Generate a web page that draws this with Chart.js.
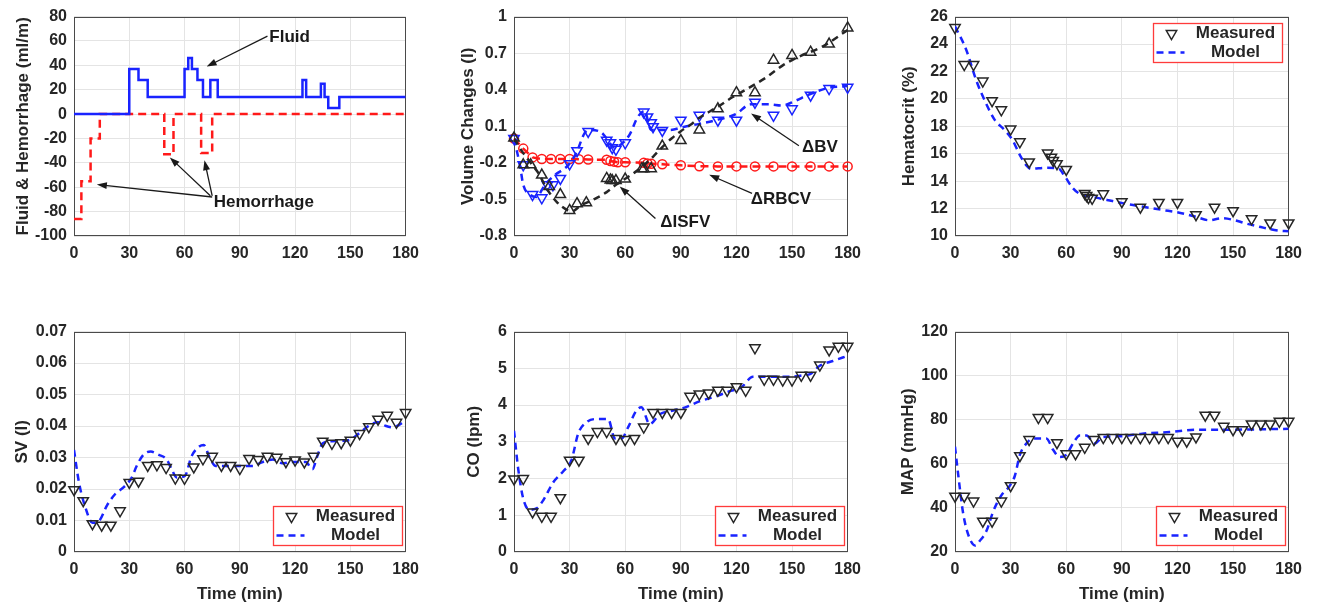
<!DOCTYPE html>
<html>
<head>
<meta charset="utf-8">
<script src="https://cdn.jsdelivr.net/npm/chart.js@4.4.1/dist/chart.umd.min.js"></script>
<style>
  html, body { margin: 0; padding: 0; background: #fff; }
  body { width: 1322px; height: 608px; position: relative; overflow: hidden; }
</style>
</head>
<body>
<script>
// ---- panel 1 : fluid infusion and hemorrhage rates (ml/m), step functions
const fluidT = [0, 30, 35, 40, 60, 62, 64, 67, 70, 74, 78, 124, 126, 134, 136, 138, 144, 180];
const fluidV = [0, 37, 28, 14, 37, 46, 37, 28, 14, 28, 14, 28, 14, 25, 14, 5, 14, 14];
const hemT = [0, 4, 9, 14, 49, 54, 69, 75, 180];
const hemV = [-86, -55, -20, 0, -33, 0, -32, 0, 0];

// ---- panel 2 : volume changes (l)
const isfvT = [0, 5, 9, 15, 19, 25, 30, 34, 39, 50, 52, 53, 55, 60, 69, 70, 74, 80, 90, 100, 110, 120, 130, 140, 150, 160, 170, 180];
const isfvV = [0.004, -0.216, -0.216, -0.30, -0.394, -0.46, -0.59, -0.535, -0.527, -0.328, -0.34, -0.345, -0.345, -0.333, -0.248, -0.248, -0.248, -0.062, -0.017, 0.07, 0.243, 0.376, 0.376, 0.642, 0.681, 0.708, 0.775, 0.907];
const isfvModelT = [0, 5, 10, 13, 18, 23, 29, 31, 36, 43, 50, 55, 60, 65, 70, 75, 80, 85, 90, 95, 100, 110, 118, 125, 136, 145, 155, 166, 180];
const isfvModelV = [0, -0.12, -0.22, -0.28, -0.42, -0.52, -0.59, -0.6, -0.55, -0.5, -0.44, -0.38, -0.33, -0.28, -0.22, -0.15, -0.07, 0, 0.06, 0.11, 0.17, 0.26, 0.34, 0.4, 0.5, 0.6, 0.68, 0.75, 0.89];
const bvT = [0, 5, 10, 15, 18, 21, 25, 30, 34, 40, 50, 52, 53, 55, 60, 70, 72, 74, 75, 80, 90, 100, 110, 120, 130, 140, 150, 160, 170, 180];
const bvV = [0, -0.216, -0.46, -0.487, -0.38, -0.38, -0.328, -0.208, -0.10, 0.058, -0.014, -0.035, -0.075, -0.089, -0.035, 0.217, 0.177, 0.13, 0.097, 0.066, 0.15, 0.19, 0.15, 0.15, 0.297, 0.19, 0.243, 0.355, 0.41, 0.42];
const bvModelT = [0, 3.2, 5, 8.6, 12, 16.7, 22, 29.2, 33.7, 38.1, 40.8, 47.1, 49.8, 54.3, 58.7, 62.3, 66.8, 70.4, 74, 79.4, 84, 92, 100, 109, 119.6, 127.7, 137.5, 144.7, 151.9, 159, 169.8, 180];
const bvModelV = [0, -0.22, -0.38, -0.46, -0.48, -0.38, -0.3, -0.22, -0.115, 0.044, 0.07, 0.05, 0.004, -0.075, -0.035, 0.03, 0.177, 0.225, 0.07, 0.07, 0.07, 0.097, 0.12, 0.15, 0.2, 0.28, 0.28, 0.27, 0.31, 0.36, 0.416, 0.43];
const rbcvT = [0, 5, 10, 15, 20, 25, 30, 35, 40, 50, 52, 54, 56, 60, 70, 72, 74, 80, 90, 100, 110, 120, 130, 140, 150, 160, 170, 180];
const rbcvV = [0, -0.083, -0.155, -0.168, -0.168, -0.168, -0.168, -0.17, -0.172, -0.175, -0.185, -0.19, -0.195, -0.195, -0.2, -0.205, -0.207, -0.212, -0.22, -0.228, -0.229, -0.229, -0.229, -0.229, -0.229, -0.229, -0.229, -0.229];

// ---- panel 3 : hematocrit (%)
const hctT = [0, 5, 10, 15, 20, 25, 30, 35, 40, 50, 52, 53, 55, 60, 70, 71, 72, 74, 80, 90, 100, 110, 120, 130, 140, 150, 160, 170, 180];
const hctV = [25.2, 22.5, 22.5, 21.3, 19.87, 19.2, 17.8, 16.87, 15.4, 16.05, 15.75, 15.5, 15.27, 14.85, 13.1, 12.95, 12.8, 12.75, 13.08, 12.5, 12.1, 12.45, 12.45, 11.55, 12.1, 11.85, 11.25, 10.95, 10.95];
const hctModelT = [0, 6, 11.6, 17, 21.5, 27, 31, 35, 38.5, 41, 49, 56, 59, 63.5, 67, 76, 85, 94, 103, 112, 121, 130, 137, 144, 151, 156, 165, 174, 180];
const hctModelV = [25.3, 23.6, 21.3, 19.6, 18.45, 17.7, 17, 15.9, 15.15, 14.9, 14.97, 14.9, 14.4, 13.5, 13.1, 12.8, 12.55, 12.3, 12.1, 11.9, 11.7, 11.4, 11.15, 11.3, 11.15, 10.95, 10.65, 10.4, 10.35];

// ---- bottom row : measured every 5 min
const sampleT = [0, 5, 10, 15, 20, 25, 30, 35, 40, 45, 50, 55, 60, 65, 70, 75, 80, 85, 90, 95, 100, 105, 110, 115, 120, 125, 130, 135, 140, 145, 150, 155, 160, 165, 170, 175, 180];
const svV = [0.0198, 0.0163, 0.0090, 0.0085, 0.0085, 0.0131, 0.0221, 0.0225, 0.0275, 0.0277, 0.0268, 0.0235, 0.0234, 0.0270, 0.0296, 0.0304, 0.0275, 0.0275, 0.0265, 0.0297, 0.0294, 0.0304, 0.0301, 0.0287, 0.0292, 0.0286, 0.0304, 0.0352, 0.0345, 0.0347, 0.0355, 0.0376, 0.0398, 0.0422, 0.0434, 0.0412, 0.0443];
const svModelT = [0, 2.7, 6.3, 10, 13.5, 18, 22.5, 27, 31.4, 34, 37.7, 41.7, 45.8, 50.3, 53, 55.7, 60.2, 63.8, 68, 70.4, 73.7, 77, 82.6, 90, 97, 102, 108, 113, 118.6, 125.8, 129.4, 132, 135, 140, 149, 154.5, 160, 165, 169, 173, 180];
const svModelV = [0.0324, 0.0221, 0.0139, 0.0093, 0.0098, 0.0149, 0.0185, 0.0206, 0.0237, 0.0273, 0.0309, 0.0319, 0.0309, 0.0294, 0.0263, 0.0237, 0.0242, 0.0304, 0.0335, 0.034, 0.0299, 0.0273, 0.0273, 0.0273, 0.0273, 0.0285, 0.0294, 0.0282, 0.0286, 0.0286, 0.0263, 0.0304, 0.0345, 0.0352, 0.0355, 0.0376, 0.0401, 0.0412, 0.0401, 0.0396, 0.0417];
const coV = [1.99, 2.0, 1.09, 0.97, 0.97, 1.48, 2.5, 2.5, 3.09, 3.28, 3.28, 3.09, 3.06, 3.09, 3.4, 3.8, 3.8, 3.8, 3.8, 4.24, 4.3, 4.33, 4.4, 4.4, 4.5, 4.4, 5.56, 4.7, 4.7, 4.68, 4.68, 4.81, 4.81, 5.09, 5.5, 5.6, 5.6];
const coModelT = [0, 2.3, 5, 8.3, 12.2, 15.8, 21.2, 26.6, 31, 34.6, 39, 44.5, 50.8, 54.4, 58, 61.6, 66, 68.7, 73.2, 78.6, 85.8, 92, 100, 109, 116, 122.6, 128.9, 135, 148.6, 155.7, 160, 165, 172, 180];
const coModelV = [3.3, 2.25, 1.45, 1.15, 1.19, 1.41, 1.9, 2.2, 2.5, 3.22, 3.53, 3.62, 3.62, 3.09, 3.09, 3.4, 3.85, 3.94, 3.48, 3.75, 3.85, 3.93, 4.1, 4.24, 4.37, 4.48, 4.77, 4.77, 4.77, 4.81, 4.85, 5.07, 5.2, 5.34];
const mapV = [45.3, 45.3, 43.1, 34, 34, 43.1, 50.1, 63.7, 71, 81, 81, 69.6, 64.6, 64.6, 67.5, 71, 71.9, 71.9, 71.9, 71.9, 71.9, 71.9, 71.9, 71.9, 70.3, 70.3, 72.2, 82.1, 82.1, 77, 75.5, 75.5, 78.1, 78.1, 78.1, 79.3, 79.3];
const mapModelT = [0, 1.8, 4.5, 7.7, 10.8, 13.5, 17, 20.6, 25, 29.6, 32.3, 35, 38.6, 42, 49.3, 52.9, 56.5, 60, 63.7, 67.3, 70.9, 75.4, 79.9, 88.8, 101, 115.8, 130, 148, 180];
const mapModelV = [67.8, 54.6, 37, 26.6, 23, 25.2, 29.6, 38.4, 45.7, 50.1, 54.6, 64.1, 69.3, 71.5, 71.5, 66.4, 63.1, 64.1, 69.3, 72.9, 72.9, 69.3, 72.2, 72.5, 73.7, 74.4, 75.5, 75.5, 75.9];

// ---- tick labels
const timeTicks = [0, 30, 60, 90, 120, 150, 180];
const flowTicks = [-100, -80, -60, -40, -20, 0, 20, 40, 60, 80];
const volTicks = [-0.8, -0.5, -0.2, 0.1, 0.4, 0.7, 1];
const hctTicks = [10, 12, 14, 16, 18, 20, 22, 24, 26];
const svTicks = [0, 0.01, 0.02, 0.03, 0.04, 0.05, 0.06, 0.07];
const coTicks = [0, 1, 2, 3, 4, 5, 6];
const mapTicks = [20, 40, 60, 80, 100, 120];

const FONT = "'Liberation Sans', Arial, sans-serif";
const INK = '#262626';
const BLUE = 'rgb(25,35,255)';
const RED = 'rgb(255,25,25)';

Chart.defaults.font.family = FONT;
Chart.defaults.font.size = 16;
Chart.defaults.font.weight = 'bold';
Chart.defaults.color = INK;

const xy = (t, v) => t.map((x, i) => ({ x, y: v[i] }));

// box around the axes, like matlab
const framePlugin = {
  id: 'frame',
  beforeDatasetsDraw(chart) {
    const { ctx, chartArea: a } = chart;
    ctx.save();
    ctx.strokeStyle = '#4a4a4a';
    ctx.lineWidth = 1;
    ctx.strokeRect(Math.round(a.left) + 0.5, Math.round(a.top) + 0.5, Math.round(a.width) - 1, Math.round(a.height) - 1);
    ctx.restore();
  }
};

function arrow(ctx, x1, y1, x2, y2) {
  const ang = Math.atan2(y2 - y1, x2 - x1);
  const L = 10, W = 3.5;
  ctx.beginPath();
  ctx.moveTo(x1, y1);
  ctx.lineTo(x2 - Math.cos(ang) * L * 0.8, y2 - Math.sin(ang) * L * 0.8);
  ctx.stroke();
  ctx.beginPath();
  ctx.moveTo(x2, y2);
  ctx.lineTo(x2 - Math.cos(ang) * L - Math.sin(ang) * W, y2 - Math.sin(ang) * L + Math.cos(ang) * W);
  ctx.lineTo(x2 - Math.cos(ang) * L + Math.sin(ang) * W, y2 - Math.sin(ang) * L - Math.cos(ang) * W);
  ctx.closePath();
  ctx.fill();
}

// text labels and arrows placed in data coordinates
const notesPlugin = {
  id: 'notes',
  afterDatasetsDraw(chart, args, opts) {
    if (!opts.items || !opts.items.length) return;
    const { ctx, scales: { x, y } } = chart;
    ctx.save();
    ctx.strokeStyle = '#1a1a1a';
    ctx.fillStyle = '#1a1a1a';
    ctx.lineWidth = 1.3;
    opts.items.forEach(n => {
      if (n.text) {
        ctx.font = 'bold 17px ' + FONT;
        ctx.textAlign = 'center';
        ctx.textBaseline = 'middle';
        ctx.fillText(n.text, x.getPixelForValue(n.x), y.getPixelForValue(n.y));
      }
      (n.arrows || []).forEach(a => {
        arrow(ctx, x.getPixelForValue(a[0]), y.getPixelForValue(a[1]), x.getPixelForValue(a[2]), y.getPixelForValue(a[3]));
      });
    });
    ctx.restore();
  }
};

function downTriangle(ctx, cx, cy, r) {
  ctx.beginPath();
  for (let k = 0; k < 3; k++) {
    const a = Math.PI + k * 2 * Math.PI / 3;
    const px = cx + Math.sin(a) * r, py = cy - Math.cos(a) * r;
    if (k === 0) ctx.moveTo(px, py); else ctx.lineTo(px, py);
  }
  ctx.closePath();
  ctx.stroke();
}

// red boxed legend (Measured / Model)
const boxLegendPlugin = {
  id: 'boxLegend',
  afterDatasetsDraw(chart, args, opts) {
    if (!opts.corner) return;
    const { ctx, chartArea: a } = chart;
    const w = 129, h = 39;
    const left = Math.round(a.right - w - (opts.corner === 'tr' ? 7 : 4)) + 0.5;
    const top = Math.round(opts.corner === 'tr' ? a.top + 6 : a.bottom - h - 7) + 0.5;
    const meas = chart.data.datasets[0], model = chart.data.datasets[1];
    ctx.save();
    ctx.fillStyle = '#fff';
    ctx.fillRect(left, top, w, h);
    ctx.strokeStyle = '#ff3b3b';
    ctx.lineWidth = 1.3;
    ctx.strokeRect(left, top, w, h);
    ctx.strokeStyle = meas.pointBorderColor;
    ctx.lineWidth = meas.pointBorderWidth;
    downTriangle(ctx, left + 18, top + 10, 6);
    ctx.strokeStyle = model.borderColor;
    ctx.lineWidth = model.borderWidth;
    ctx.setLineDash(model.borderDash);
    ctx.beginPath();
    ctx.moveTo(left + 3, top + 29);
    ctx.lineTo(left + 31, top + 29);
    ctx.stroke();
    ctx.setLineDash([]);
    ctx.fillStyle = INK;
    ctx.font = 'bold 17px ' + FONT;
    ctx.textAlign = 'center';
    ctx.textBaseline = 'middle';
    ctx.fillText(meas.label, left + 82, top + 10);
    ctx.fillText(model.label, left + 82, top + 29);
    ctx.restore();
  }
};

function measured(label, t, v, color, up) {
  return {
    label, data: xy(t, v), showLine: false,
    pointStyle: 'triangle', pointRotation: up ? 0 : 180, pointRadius: 6,
    pointBorderColor: color, pointBorderWidth: 1.5, pointBackgroundColor: 'rgba(0,0,0,0)',
    clip: false
  };
}

function model(label, t, v, color) {
  return {
    label, data: xy(t, v), showLine: true, pointRadius: 0,
    borderColor: color, borderWidth: 2.5, borderDash: [7, 5],
    cubicInterpolationMode: 'monotone'
  };
}

// geometry: plot area left/right in page px, y-axis box width, row
function panel(box, yAxis, datasets, extra) {
  const plotW = box.right - box.left;
  const w = box.yw + plotW + 20;
  const h = box.row === 0 ? 264 : 293;
  const div = document.createElement('div');
  div.style.cssText = `position:absolute;left:${box.left - box.yw}px;top:${box.row === 0 ? 0 : 315}px;width:${w}px;height:${h}px`;
  const canvas = document.createElement('canvas');
  canvas.width = w;
  canvas.height = h;
  div.appendChild(canvas);
  document.body.appendChild(div);

  const grid = { color: '#e4e4e4', lineWidth: 1, drawTicks: false };
  return new Chart(canvas, {
    type: 'scatter',
    data: { datasets },
    options: {
      responsive: false,
      animation: false,
      devicePixelRatio: 1,
      layout: { padding: { top: 10, right: 20, left: 0, bottom: 0 } },
      plugins: {
        legend: { display: false },
        tooltip: { enabled: false },
        notes: { items: extra.notes || [] },
        boxLegend: { corner: extra.corner || null }
      },
      scales: {
        x: {
          type: 'linear', min: 0, max: 180,
          afterBuildTicks: s => { s.ticks = timeTicks.map(v => ({ value: v })); },
          afterFit: s => { s.height = box.row === 0 ? 28 : 56; },
          grid, border: { display: false },
          ticks: { padding: 8, maxRotation: 0 },
          title: box.row === 1
            ? { display: true, text: 'Time (min)', font: { size: 17 }, padding: { top: 0, bottom: 3 } }
            : { display: false }
        },
        y: {
          type: 'linear', min: yAxis.min, max: yAxis.max,
          afterBuildTicks: s => { s.ticks = yAxis.ticks.map(v => ({ value: v })); },
          afterFit: s => { s.width = box.yw; },
          grid, border: { display: false },
          ticks: { padding: 7, callback: v => String(+v.toFixed(3)) },
          title: { display: true, text: yAxis.title, font: { size: 17 }, padding: { top: 4, bottom: 0 } }
        }
      }
    },
    plugins: [framePlugin, notesPlugin, boxLegendPlugin]
  });
}

// ---- panel 1
panel({ left: 74, right: 407, yw: 65, row: 0 },
  { min: -100, max: 80, ticks: flowTicks, title: 'Fluid & Hemorrhage (ml/m)' },
  [
    { label: 'Fluid', data: xy(fluidT, fluidV), showLine: true, stepped: 'before', pointRadius: 0, borderColor: BLUE, borderWidth: 2.5 },
    { label: 'Hemorrhage', data: xy(hemT, hemV), showLine: true, stepped: 'before', pointRadius: 0, borderColor: RED, borderWidth: 2.5, borderDash: [8, 5] }
  ],
  {
    notes: [
      { text: 'Fluid', x: 117, y: 63, arrows: [[105, 64, 72, 39]] },
      { text: 'Hemorrhage', x: 103, y: -72, arrows: [[75, -68, 12.4, -57.8], [74, -67, 52, -35.5], [75, -67, 70.8, -37.9]] }
    ]
  });

// ---- panel 2
panel({ left: 514, right: 849, yw: 60, row: 0 },
  { min: -0.8, max: 1, ticks: volTicks, title: 'Volume Changes (l)' },
  [
    measured('ISFV', isfvT, isfvV, INK, true),
    model('ISFV model', isfvModelT, isfvModelV, INK),
    measured('BV', bvT, bvV, BLUE, false),
    model('BV model', bvModelT, bvModelV, BLUE),
    {
      label: 'RBCV', data: xy(rbcvT, rbcvV), showLine: true,
      borderColor: RED, borderWidth: 2.5, borderDash: [8, 5],
      pointStyle: 'circle', pointRadius: 4.5, pointBorderColor: RED, pointBorderWidth: 1.5,
      pointBackgroundColor: 'rgba(255,255,255,0)', clip: false
    }
  ],
  {
    notes: [
      { text: '\u0394BV', x: 165, y: -0.075, arrows: [[153.7, -0.059, 127.9, 0.204]] },
      { text: '\u0394RBCV', x: 144, y: -0.497, arrows: [[128.4, -0.45, 105.3, -0.298]] },
      { text: '\u0394ISFV', x: 92.4, y: -0.689, arrows: [[76.3, -0.657, 57, -0.394]] }
    ]
  });

// ---- panel 3
panel({ left: 955, right: 1290, yw: 60, row: 0 },
  { min: 10, max: 26, ticks: hctTicks, title: 'Hematocrit (%)' },
  [measured('Measured', hctT, hctV, INK, false), model('Model', hctModelT, hctModelV, BLUE)],
  { corner: 'tr' });

// ---- panel 4
panel({ left: 74, right: 407, yw: 66, row: 1 },
  { min: 0, max: 0.07, ticks: svTicks, title: 'SV (l)' },
  [measured('Measured', sampleT, svV, INK, false), model('Model', svModelT, svModelV, BLUE)],
  { corner: 'br' });

// ---- panel 5
panel({ left: 514, right: 849, yw: 54, row: 1 },
  { min: 0, max: 6, ticks: coTicks, title: 'CO (lpm)' },
  [measured('Measured', sampleT, coV, INK, false), model('Model', coModelT, coModelV, BLUE)],
  { corner: 'br' });

// ---- panel 6
panel({ left: 955, right: 1290, yw: 61, row: 1 },
  { min: 20, max: 120, ticks: mapTicks, title: 'MAP (mmHg)' },
  [measured('Measured', sampleT, mapV, INK, false), model('Model', mapModelT, mapModelV, BLUE)],
  { corner: 'br' });
</script>
</body>
</html>
